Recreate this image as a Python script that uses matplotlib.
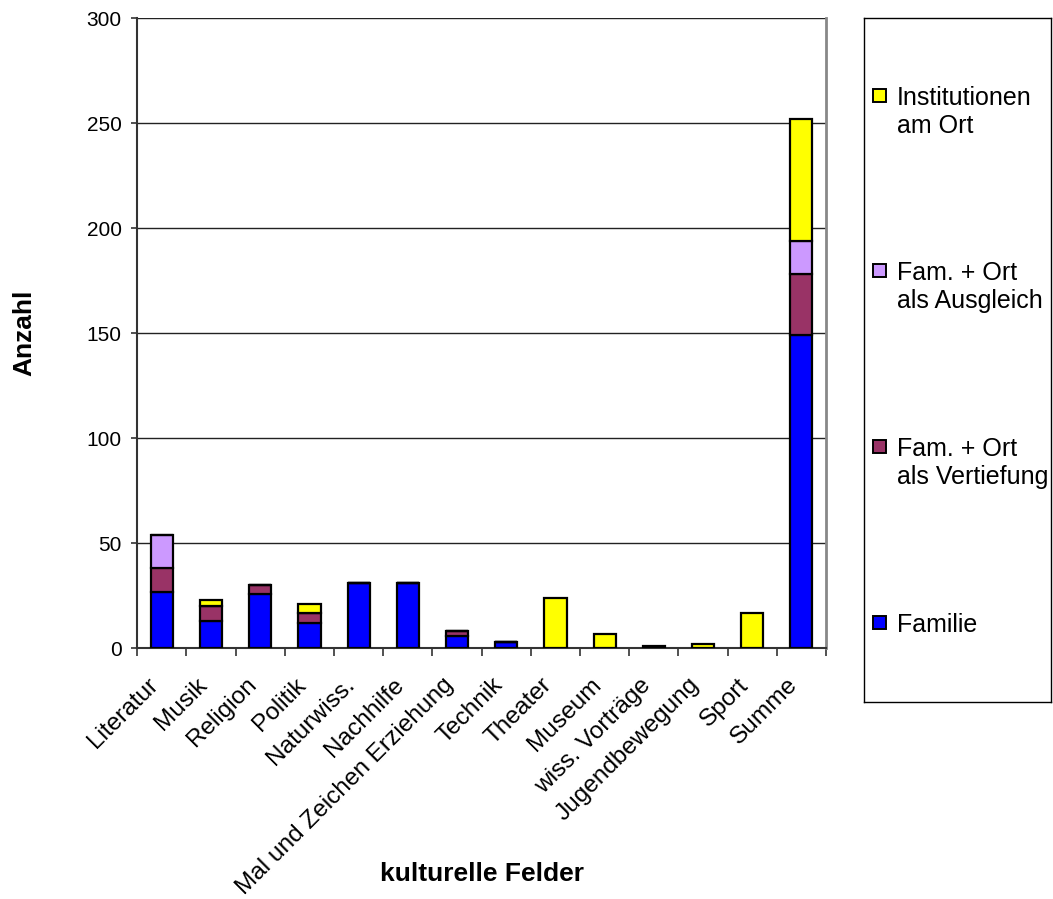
import matplotlib.pyplot as plt
import matplotlib.transforms as mtransforms
from matplotlib.patches import Rectangle
import numpy as np

plt.rcParams['font.family'] = ['Liberation Sans', 'DejaVu Sans']

# Daten je kulturellem Feld
felder = ['Literatur', 'Musik', 'Religion', 'Politik', 'Naturwiss.', 'Nachhilfe',
          'Mal und Zeichen Erziehung', 'Technik', 'Theater', 'Museum',
          'wiss. Vorträge', 'Jugendbewegung', 'Sport', 'Summe']
familie = [27, 13, 26, 12, 31, 31, 6, 3, 0, 0, 0, 0, 0, 149]
vertiefung = [11, 7, 4, 5, 0, 0, 2, 0, 0, 0, 0, 0, 0, 29]
ausgleich = [16, 0, 0, 0, 0, 0, 0, 0, 0, 0, 0, 0, 0, 16]
institutionen = [0, 3, 0, 4, 0, 0, 0, 0, 24, 7, 1, 2, 17, 58]

serien_namen = ['Familie', 'Fam. + Ort\nals Vertiefung',
                'Fam. + Ort\nals Ausgleich', 'Institutionen\nam Ort']
serien_werte = [familie, vertiefung, ausgleich, institutionen]
serien_farben = ['#0000FF', '#993366', '#CC99FF', '#FFFF00']

W, H = 1053, 899
fig = plt.figure(figsize=(W / 100, H / 100), dpi=100)
ax = fig.add_axes([137.3 / W, 1 - 648.3 / H, 688.7 / W, 630.3 / H])

x = np.arange(len(felder))
unten = np.zeros(len(felder))
for name, werte, farbe in zip(serien_namen, serien_werte, serien_farben):
    ax.bar(x, werte, bottom=unten, width=0.45, color=farbe,
           edgecolor='black', linewidth=1.6, label=name, zorder=3)
    unten += np.array(werte)

ax.set_xlim(-0.5, len(felder) - 0.5)
ax.set_ylim(0, 300)
ax.set_yticks(range(0, 301, 50))
ax.yaxis.grid(True, color='#222222', linewidth=1.0, zorder=0)
ax.tick_params(axis='y', labelsize=15, length=4.3, width=1.2,
               direction='out', pad=7, color='#333333')

ax.set_xticks(x)
ax.set_xticklabels(felder, rotation=45, ha='right', va='center',
                   rotation_mode='anchor', fontsize=17.6)
ax.tick_params(axis='x', which='major', length=0, pad=24)
versatz = mtransforms.ScaledTranslation(-5 / 72, 0, fig.dpi_scale_trans)
for lbl in ax.get_xticklabels():
    lbl.set_transform(lbl.get_transform() + versatz)
ax.set_xticks(np.arange(len(felder) + 1) - 0.5, minor=True)
ax.tick_params(axis='x', which='minor', length=5.5, width=1.2,
               direction='out', color='#333333')

for s in ['left', 'bottom']:
    ax.spines[s].set_color('#333333')
    ax.spines[s].set_linewidth(1.5)
ax.spines['top'].set_visible(False)
ax.spines['right'].set_color('#888888')
ax.spines['right'].set_linewidth(2)

ax.set_ylabel('Anzahl', fontsize=19, fontweight='bold')
ax.yaxis.set_label_coords(-0.146, 0.5)
ax.set_xlabel('kulturelle Felder', fontsize=19, fontweight='bold')
ax.xaxis.set_label_coords(0.5, -0.339)

# Legende als eigener Kasten rechts
lx0, lx1, ly0, ly1 = 864, 1051, 18, 702
lax = fig.add_axes([lx0 / W, 1 - ly1 / H, (lx1 - lx0) / W, (ly1 - ly0) / H])
lax.set_xlim(lx0, lx1)
lax.set_ylim(ly1, ly0)
lax.set_xticks([])
lax.set_yticks([])
for s in lax.spines.values():
    s.set_color('black')
    s.set_linewidth(1.0)

zeile_y = 95
for name, farbe in zip(serien_namen[::-1], serien_farben[::-1]):
    lax.add_patch(Rectangle((873, zeile_y - 6.5), 13, 13, facecolor=farbe,
                            edgecolor='black', linewidth=1.4))
    for k, teil in enumerate(name.split('\n')):
        lax.text(897, zeile_y + 28 * k, teil, fontsize=18,
                 va='center_baseline', ha='left')
    zeile_y += 175.7

fig.savefig('out.png', dpi=100)
